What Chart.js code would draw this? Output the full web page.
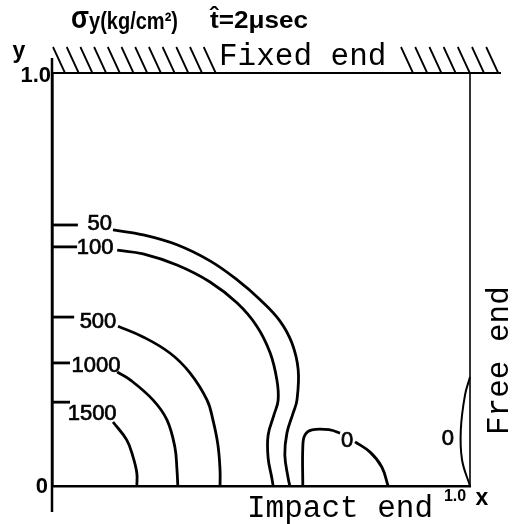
<!DOCTYPE html>
<html>
<head>
<meta charset="utf-8">
<script src="https://cdn.jsdelivr.net/npm/chart.js@4"></script>
<style>
  body { margin: 0; background: #fff; }
  #wrap { width: 519px; height: 524px; }
</style>
</head>
<body>
<div id="wrap"><canvas id="Chart"></canvas></div>
<script>
// contour lines, x and y are fractions of the plate (0..1)
const c50x = [0.146, 0.218, 0.299, 0.378, 0.443, 0.498, 0.545, 0.574, 0.589, 0.586, 0.577, 0.562, 0.557, 0.565, 0.569];
const c50y = [0.620, 0.608, 0.584, 0.545, 0.499, 0.451, 0.400, 0.346, 0.281, 0.208, 0.177, 0.128, 0.075, 0.019, 0];
const c100x = [0.156, 0.218, 0.299, 0.378, 0.443, 0.490, 0.522, 0.538, 0.541, 0.531, 0.517, 0.517, 0.526, 0.529];
const c100y = [0.571, 0.562, 0.535, 0.494, 0.443, 0.387, 0.322, 0.257, 0.208, 0.172, 0.123, 0.068, 0.019, 0];
const c500x = [0.158, 0.218, 0.282, 0.330, 0.371, 0.385, 0.397, 0.402, 0.402];
const c500y = [0.387, 0.361, 0.322, 0.274, 0.208, 0.160, 0.099, 0.039, 0];
const c1000x = [0.156, 0.187, 0.242, 0.275, 0.294, 0.299, 0.301];
const c1000y = [0.276, 0.257, 0.208, 0.160, 0.094, 0.039, 0];
const c1500x = [0.146, 0.179, 0.194, 0.203, 0.203];
const c1500y = [0.155, 0.111, 0.070, 0.031, 0];
const zeroAx = [0.600, 0.600, 0.605, 0.622, 0.665, 0.689];
const zeroAy = [0, 0.094, 0.123, 0.136, 0.136, 0.128];
const zeroBx = [0.725, 0.761, 0.789, 0.804];
const zeroBy = [0.107, 0.082, 0.046, 0];
const zeroRx = [1.0, 0.988, 0.978, 0.981, 1.0];
const zeroRy = [0.264, 0.220, 0.136, 0.063, 0];

// short leader lines from the y axis to the level labels
const leaderY = [0.632, 0.579, 0.409, 0.298, 0.203];
const leaderEnd = [0.062, 0.060, 0.053, 0.043, 0.043];

// contour level labels
const levelText = ['50', '100', '500', '1000', '1500', '0', '0'];
const levelX = [0.114, 0.103, 0.110, 0.105, 0.096, 0.706, 0.947];
const levelY = [0.637, 0.579, 0.400, 0.293, 0.177, 0.111, 0.116];

const xTicks = ['0', '1.0'];
const yTicks = ['0', '1.0'];

function pts(xs, ys) {
    return xs.map((x, i) => ({ x: x, y: ys[i] }));
}

function line(xs, ys) {
    return {
        data: pts(xs, ys),
        showLine: true,
        borderColor: '#000',
        borderWidth: 2.8,
        pointRadius: 0,
        tension: 0.4,
        fill: false,
        clip: 10
    };
}

const datasets = [
    line(c50x, c50y),
    line(c100x, c100y),
    line(c500x, c500y),
    line(c1000x, c1000y),
    line(c1500x, c1500y),
    line(zeroAx, zeroAy),
    line(zeroBx, zeroBy),
    line(zeroRx, zeroRy)
];
datasets[7].borderWidth = 2;
leaderY.forEach((y, i) => {
    let d = line([0, leaderEnd[i]], [y, y]);
    d.tension = 0;
    datasets.push(d);
});

// text squeezed or stretched to a given width
function fitText(c, t, x, y, w) {
    let m = c.measureText(t).width;
    c.save();
    c.translate(x, y);
    c.scale(w / m, 1);
    c.fillText(t, 0, 0);
    c.restore();
}

const decor = {
    id: 'decor',
    afterDraw(chart) {
        const c = chart.ctx;
        const sx = chart.scales.x, sy = chart.scales.y;
        const x0 = sx.getPixelForValue(0), x1 = sx.getPixelForValue(1);
        const y0 = sy.getPixelForValue(0), y1 = sy.getPixelForValue(1);
        c.save();
        c.strokeStyle = '#000';
        c.fillStyle = '#000';
        c.lineCap = 'butt';

        // axis extensions, top edge and right edge
        c.lineWidth = 2.5;
        c.beginPath();
        c.moveTo(x0, y1 - 15); c.lineTo(x0, y0 + 26);
        c.stroke();
        c.lineWidth = 2;
        c.beginPath();
        c.moveTo(x0, y1); c.lineTo(x1 + 31, y1);
        c.stroke();
        c.lineWidth = 1.6;
        c.beginPath();
        c.moveTo(x1, y1); c.lineTo(x1, y0);
        c.stroke();

        // hatching of the fixed end
        c.lineWidth = 1.8;
        c.beginPath();
        for (let i = 0; i < 12; i++) {
            let hx = 53 + i * 13.7;
            c.moveTo(hx, y1 - 26); c.lineTo(hx + 12, y1);
        }
        for (let i = 0; i < 7; i++) {
            let hx = 401 + i * 14.2;
            c.moveTo(hx, y1 - 26); c.lineTo(hx + 12, y1);
        }
        c.stroke();

        // level labels
        c.font = '22px "Liberation Sans", Arial, sans-serif';
        c.textAlign = 'center';
        c.textBaseline = 'middle';
        c.lineWidth = 0.7;
        levelText.forEach((t, i) => {
            let px = sx.getPixelForValue(levelX[i]), py = sy.getPixelForValue(levelY[i]) + 1;
            c.fillText(t, px, py);
            c.strokeText(t, px, py);
        });

        // tick labels
        c.font = 'bold 22px "Liberation Sans", Arial, sans-serif';
        c.textAlign = 'right';
        c.fillText(yTicks[0], x0 - 4, y0 + 1);
        c.fillText(yTicks[1], x0 - 1, y1 + 3);
        c.font = 'bold 16px "Liberation Sans", Arial, sans-serif';
        c.textAlign = 'center';
        c.fillText(xTicks[1], x1 - 15, y0 + 11);
        c.font = 'bold 23px "Liberation Sans", Arial, sans-serif';
        c.fillText('x', x1 + 12, y0 + 13);
        c.fillText('y', 19, 52);

        // title
        c.textAlign = 'left';
        c.font = 'bold 31px "Liberation Sans", Arial, sans-serif';
        fitText(c, 'σ', 71, 19, 18);
        c.font = 'bold 24px "Liberation Sans", Arial, sans-serif';
        fitText(c, 'y(kg/cm²)', 89, 22, 89);
        fitText(c, 't̂=2μsec', 210, 21, 98);

        // edge names
        c.font = '31px "Liberation Mono", "DejaVu Sans Mono", monospace';
        c.textAlign = 'left';
        c.textBaseline = 'alphabetic';
        c.fillText('Fixed end', 219, 65);
        c.fillText('Impact end', 247, 517);
        c.translate(508, 435);
        c.rotate(-Math.PI / 2);
        c.fillText('Free end', 0, 0);
        c.restore();
    }
};

const ctx = document.getElementById('Chart').getContext('2d');
let myChart = new Chart(ctx, {
    type: 'scatter',
    data: { datasets: datasets },
    options: {
        responsive: true,
        maintainAspectRatio: false,
        animation: false,
        layout: { padding: { left: 52, right: 49, top: 73, bottom: 38 } },
        plugins: { legend: { display: false }, tooltip: { enabled: false } },
        scales: {
            x: {
                type: 'linear', min: 0, max: 1,
                grid: { display: false, drawTicks: false },
                ticks: { display: false },
                border: { display: true, color: '#000', width: 2.6 },
                afterFit: (s) => { s.height = 0; }
            },
            y: {
                type: 'linear', min: 0, max: 1,
                grid: { display: false, drawTicks: false },
                ticks: { display: false },
                border: { display: true, color: '#000', width: 2.6 },
                afterFit: (s) => { s.width = 0; }
            }
        }
    },
    plugins: [decor]
});
</script>
</body>
</html>
